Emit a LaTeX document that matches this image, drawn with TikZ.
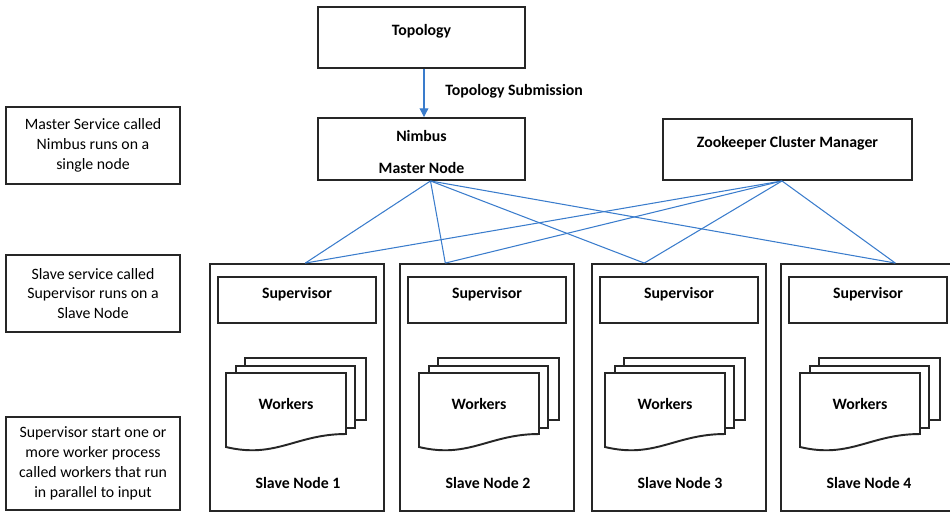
\documentclass[tikz,border=0pt]{standalone}
\usepackage{fontspec}
\setmainfont{Carlito}
\usetikzlibrary{arrows.meta,calc}
\definecolor{linkblue}{RGB}{58,124,204}
\definecolor{edge}{RGB}{38,38,38}

\begin{document}
\begin{tikzpicture}[x=0.02cm, y=-0.02cm,
    box/.style={rectangle, draw=edge, line width=1.1pt, fill=white, align=center, font=\bfseries\fontsize{9}{10.5}\selectfont},
    raised/.style={text height=6pt, text depth=7.8pt},
    note/.style={rectangle, draw=edge, line width=1.1pt, minimum width=3.48cm, minimum height=1.54cm, align=center, font=\fontsize{9}{11.3}\selectfont},
    lbl/.style={font=\bfseries\fontsize{9}{10.5}\selectfont, inner sep=1pt},
    link/.style={draw=linkblue, line width=0.6pt},
    doc/.style={draw=edge, line width=1.1pt, fill=white}
]
    \useasboundingbox (0,0) rectangle (950,512);

    % left column notes
    \node[note] (mastnote) at (93,145.5) {Master Service called\\Nimbus runs on a\\single node};
    \node[note] (slavenote) at (93,293.5) {Slave service called\\Supervisor runs on a\\Slave Node};
    \node[note, minimum height=1.86cm] (worknote) at (93,463.5) {Supervisor start one or\\more worker process\\called workers that run\\in parallel to input};

    % master side
    \node[box, raised, minimum width=4.14cm, minimum height=1.22cm] (topo) at (421.5,37.5) {Topology};
    \node[box, minimum width=4.14cm, minimum height=1.24cm] (nimbus) at (421.5,149) {\rule{0pt}{9.5pt}Nimbus\\[7.5pt]Master Node};
    \node[box, raised, minimum width=4.98cm, minimum height=1.22cm] (zoo) at (787.5,149.5) {Zookeeper Cluster Manager};

    \draw[link, -{Triangle[width=5pt,length=5pt]}] ($(topo.south)+(2.5,0)$) -- node[lbl, anchor=west, xshift=0.38cm, yshift=1pt] (submit) {Topology Submission} ($(nimbus.north)+(2.5,0)$);

    \coordinate (nb) at ($(nimbus.south)+(9,0)$);
    \coordinate (zb) at ($(zoo.south)+(-5.5,0)$);

    % slave nodes
    \foreach \i/\xl/\xd/\xt in {1/210/226/306, 2/400/419/446, 3/592/605/645, 4/781/800/896} {
        \node[box, minimum width=3.47cm, minimum height=4.94cm] (slave\i) at (\xl+87,387.5) {};
        \node[box, raised, minimum width=3.16cm, minimum height=0.92cm] (sup\i) at (\xl+87,300) {Supervisor};
        \coordinate (top\i) at ($(slave\i.north west)+(\xt-\xl,0)$);
        % stacked worker pages
        \draw[doc] (\xd+19,358) rectangle (\xd+140,420);
        \draw[doc] (\xd+10,366) rectangle (\xd+129,428);
        \draw[doc] (\xd,373) -- (\xd+120,373) -- (\xd+120,434) .. controls (\xd+70,434) and (\xd+50,459) .. (\xd,447) -- cycle;
        \node[lbl] (work\i) at (\xd+60,404) {Workers};
        \node[lbl] (cap\i) at (\xl+88,483) {Slave Node \i};
    }

    \foreach \i in {1,...,4} {
        \draw[link] (nb) -- (top\i);
        \draw[link] (zb) -- (top\i);
    }
\end{tikzpicture}
\end{document}
